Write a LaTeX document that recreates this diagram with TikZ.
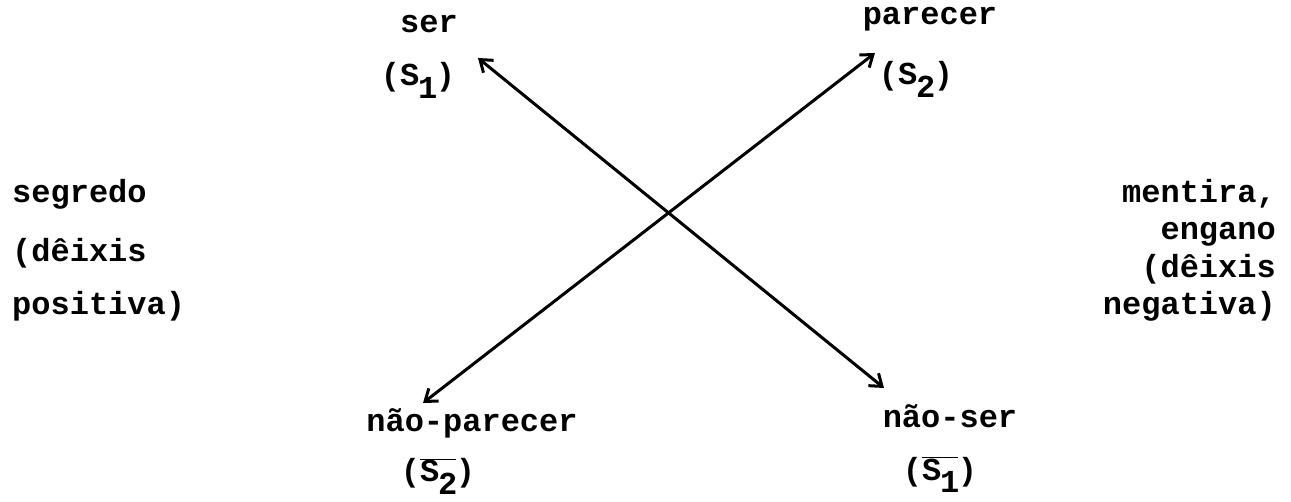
\documentclass[tikz,border=0pt]{standalone}
\usepackage{fontspec}
\setmonofont{Liberation Mono}
\usetikzlibrary{arrows.meta}
\newcommand{\sub}[1]{\kern-0.04em\raisebox{-0.38em}{#1}\kern-0.04em}
\tikzset{
  lbl/.style={font=\ttfamily\bfseries\fontsize{32}{38}\selectfont, inner sep=0pt, anchor=base},
  barb/.tip={Straight Barb[length=11pt,width=16pt,line width=3pt]},
  cross/.style={line width=3pt, barb-barb}
}
\begin{document}
\begin{tikzpicture}[x=1pt,y=-1pt]
\useasboundingbox (0,0) rectangle (1291,502);
\fill[white] (0,0) rectangle (1291,502);
% top
\node[lbl] (ser) at (429,33) {ser};
\node[lbl] (s1) at (418,86) {(S\sub{1})};
\node[lbl] (parecer) at (930,25) {parecer};
\node[lbl] (s2) at (916,85) {(S\sub{2})};
% bottom
\node[lbl] (naoparecer) at (472,432) {não-parecer};
\node[lbl] (ns2) at (438,482) {($\overline{\hbox{S\sub{2}}}$)};
\node[lbl] (naoser) at (950,428) {não-ser};
\node[lbl] (ns1) at (940,480) {($\overline{\hbox{S\sub{1}}}$)};
% sides
\node[lbl, anchor=base west] (l1) at (12,203) {segredo};
\node[lbl, anchor=base west] (l2) at (12,262) {(dêixis};
\node[lbl, anchor=base west] (l3) at (12,315) {positiva)};
\node[lbl, anchor=base east] (r1) at (1276,203) {mentira,};
\node[lbl, anchor=base east] (r2) at (1276,240) {engano};
\node[lbl, anchor=base east] (r3) at (1276,278) {(dêixis};
\node[lbl, anchor=base east] (r4) at (1276,315) {negativa)};
% arrows
\coordinate (a1) at (478,58);
\coordinate (b1) at (884,388);
\coordinate (a2) at (875,53);
\coordinate (b2) at (423,403);
\draw[cross] (a1) -- (b1);
\draw[cross] (b2) -- (a2);
\end{tikzpicture}
\end{document}
